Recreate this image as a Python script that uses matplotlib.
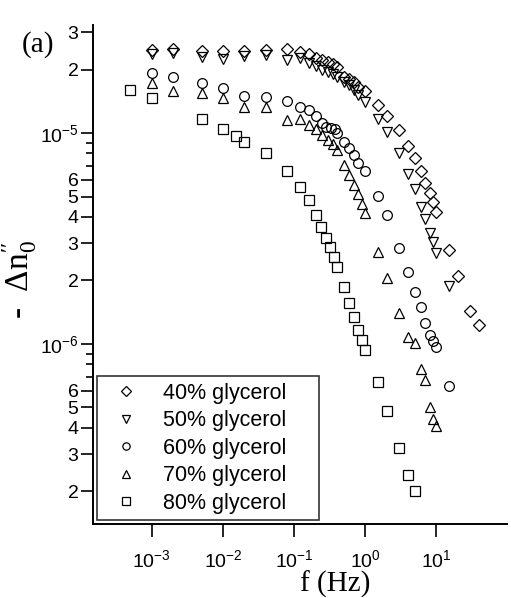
import matplotlib
matplotlib.use("Agg")
import matplotlib.pyplot as plt
from matplotlib.ticker import LogLocator, FuncFormatter, NullFormatter, NullLocator
import numpy as np

plt.rcParams['font.family'] = ['Liberation Sans', 'DejaVu Sans']
plt.rcParams['mathtext.fontset'] = 'custom'
plt.rcParams['mathtext.rm'] = 'Liberation Serif'
plt.rcParams['mathtext.it'] = 'Liberation Serif:italic'
plt.rcParams['mathtext.sf'] = 'Liberation Sans'

# frequency (Hz) and -dn0'' (units of 1e-5) for each glycerol fraction
f40 = [0.001, 0.002, 0.005, 0.01, 0.02, 0.04, 0.08, 0.12, 0.16, 0.2, 0.25, 0.3, 0.35, 0.4,
       0.5, 0.6, 0.7, 0.8, 1, 1.5, 2, 3, 4, 5, 6, 7, 8, 9, 10, 15, 20, 30, 40]
v40 = [2.48, 2.50, 2.44, 2.46, 2.46, 2.47, 2.49, 2.42, 2.37, 2.26, 2.22, 2.18, 2.12, 2.05,
       1.85, 1.80, 1.75, 1.66, 1.59, 1.36, 1.21, 1.03, 0.87, 0.76, 0.66, 0.58, 0.52, 0.47,
       0.424, 0.279, 0.210, 0.143, 0.123]

f50 = [0.001, 0.002, 0.005, 0.01, 0.02, 0.04, 0.08, 0.12, 0.16, 0.2, 0.25, 0.3, 0.35, 0.4,
       0.5, 0.6, 0.7, 0.8, 1, 1.5, 2, 3, 4, 5, 6, 7, 8, 9, 10, 15]
v50 = [2.37, 2.39, 2.30, 2.24, 2.32, 2.34, 2.22, 2.26, 2.15, 2.08, 2.00, 1.95, 1.90, 1.84,
       1.75, 1.69, 1.60, 1.51, 1.40, 1.16, 1.01, 0.80, 0.64, 0.54, 0.446, 0.390, 0.337,
       0.304, 0.271, 0.188]

f60 = [0.001, 0.002, 0.005, 0.01, 0.02, 0.04, 0.08, 0.12, 0.16, 0.2, 0.25, 0.28, 0.33, 0.37,
       0.4, 0.5, 0.6, 0.7, 0.8, 1, 1.5, 2, 3, 4, 5, 6, 7, 8, 9, 10, 15]
v60 = [1.92, 1.84, 1.72, 1.64, 1.50, 1.48, 1.42, 1.33, 1.28, 1.20, 1.12, 1.07, 1.06, 1.05,
       0.997, 0.91, 0.85, 0.79, 0.72, 0.66, 0.504, 0.409, 0.286, 0.219, 0.176, 0.150,
       0.126, 0.110, 0.103, 0.097, 0.063]

f70 = [0.001, 0.002, 0.005, 0.01, 0.02, 0.04, 0.08, 0.12, 0.16, 0.2, 0.25, 0.3, 0.35, 0.4,
       0.5, 0.6, 0.7, 0.8, 0.9, 1, 1.5, 2, 3, 4, 5, 6, 7, 8, 9, 10]
v70 = [1.72, 1.58, 1.55, 1.46, 1.33, 1.33, 1.15, 1.16, 1.09, 1.05, 0.98, 0.93, 0.89, 0.83,
       0.705, 0.63, 0.57, 0.514, 0.461, 0.416, 0.274, 0.206, 0.140, 0.108, 0.101, 0.076,
       0.0675, 0.050, 0.044, 0.041]

f80 = [0.0005, 0.001, 0.005, 0.01, 0.015, 0.02, 0.04, 0.08, 0.12, 0.16, 0.2, 0.24, 0.28,
       0.32, 0.36, 0.4, 0.5, 0.6, 0.7, 0.8, 0.9, 1, 1.5, 2, 3, 4, 5]
v80 = [1.60, 1.46, 1.17, 1.05, 0.97, 0.91, 0.80, 0.659, 0.555, 0.483, 0.409, 0.357, 0.317,
       0.287, 0.257, 0.232, 0.186, 0.157, 0.134, 0.117, 0.104, 0.094, 0.0658, 0.0483,
       0.032, 0.0239, 0.020]

labels = ["40% glycerol", "50% glycerol", "60% glycerol", "70% glycerol", "80% glycerol"]
markers = ["D", "v", "o", "^", "s"]
sizes = [6.2, 7.5, 7.0, 7.5, 6.8]

series = [(f40, v40), (f50, v50), (f60, v60), (f70, v70), (f80, v80)]

fig = plt.figure(figsize=(5.11, 5.98), dpi=100)
ax = fig.add_axes([0.182, 0.1237, 0.811, 0.8344])

for (f, v), lab, m, ms in zip(series, labels, markers, sizes):
    ax.plot(f, np.array(v) * 1e-5, linestyle="none", marker=m, ms=ms,
            mfc="none", mec="black", mew=0.9, label=lab)

ax.set_xscale("log")
ax.set_yscale("log")
ax.set_xlim(1.49e-4, 99.5)
ax.set_ylim(1.40e-7, 3.25e-5)

for side in ("top", "right"):
    ax.spines[side].set_visible(False)
for side in ("left", "bottom"):
    ax.spines[side].set_linewidth(1.4)


def ylab(val, pos):
    e = int(np.floor(np.log10(val) + 1e-9))
    m = val / 10 ** e
    if abs(m - 1) < 1e-6:
        return r"$\mathsf{10^{%d}}$" % e
    return "%d" % round(m)


def xlab(val, pos):
    e = int(round(np.log10(val)))
    return r"$\mathsf{10^{%d}}$" % e


ax.xaxis.set_major_locator(LogLocator(base=10, subs=(1.0,)))
ax.xaxis.set_major_formatter(FuncFormatter(xlab))
ax.xaxis.set_minor_locator(NullLocator())

ax.yaxis.set_major_locator(LogLocator(base=10, subs=(1.0, 2.0, 3.0, 4.0, 5.0, 6.0)))
ax.yaxis.set_major_formatter(FuncFormatter(ylab))
ax.yaxis.set_minor_locator(LogLocator(base=10, subs=(7.0, 8.0, 9.0)))
ax.yaxis.set_minor_formatter(NullFormatter())

ax.tick_params(which="major", direction="out", length=9, width=1.2, labelsize=14)
ax.tick_params(which="minor", direction="out", length=5, width=1.2)
ax.tick_params(axis="x", which="major", pad=9)
ax.tick_params(axis="y", which="major", pad=1.5)

ax.set_xlabel("f (Hz)", family="Liberation Serif", fontsize=21)
ax.xaxis.set_label_coords(0.584, -0.094)
ax.set_ylabel(r"-  $\Delta\mathrm{n}_0^{\prime\prime}$", family="Liberation Serif", fontsize=24)
ax.yaxis.set_label_coords(-0.13, 0.49)

leg = ax.legend(loc="lower left", bbox_to_anchor=(0.01, 0.008, 0.535, 0.287), mode="expand",
                fontsize=15.5, frameon=True, fancybox=False, edgecolor="black",
                borderpad=0.3, labelspacing=0.3, handlelength=2.1, handletextpad=0.66,
                borderaxespad=0, markerscale=0.75)
leg.get_frame().set_linewidth(1.2)

fig.text(22 / 511, 1 - 45 / 598, "(a)", family="Liberation Serif", fontsize=21, va="center")

fig.savefig("out.png", dpi=100)
